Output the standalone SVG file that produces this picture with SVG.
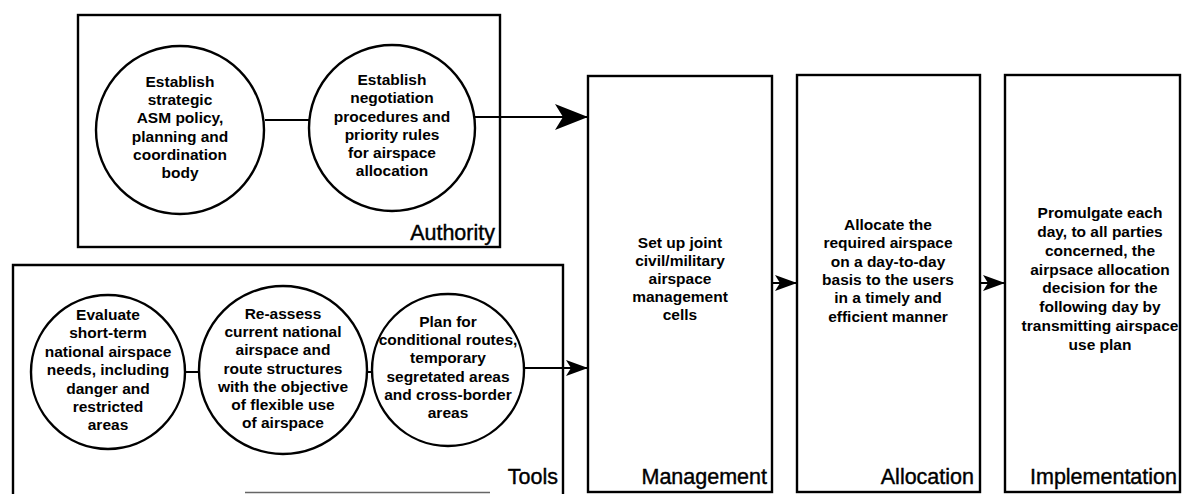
<svg xmlns="http://www.w3.org/2000/svg" width="1183" height="494" viewBox="0 0 1183 494">
<style>
.box{fill:none;stroke:#000;stroke-width:2.4}
.circ{fill:#fff;stroke:#000;stroke-width:2.4}
.ln{fill:none;stroke:#000;stroke-width:2}
.t{font-family:"Liberation Sans",Arial,sans-serif;font-size:15.5px;font-weight:bold;text-anchor:middle;fill:#000}
.lab{font-family:"Liberation Sans",Arial,sans-serif;font-size:21.5px;text-anchor:end;fill:#000;stroke:#000;stroke-width:0.4}
</style>
<defs>
<marker id="big" markerUnits="userSpaceOnUse" markerWidth="34" markerHeight="28" refX="33" refY="13" orient="auto">
<path d="M0,0 L33,13 L0,26 L8,13 z" fill="#000"/>
</marker>
<marker id="small" markerUnits="userSpaceOnUse" markerWidth="24" markerHeight="18" refX="22" refY="8" orient="auto">
<path d="M0,0 L22,8 L0,16 L5,8 z" fill="#000"/>
</marker>
</defs>
<rect width="1183" height="494" fill="#fff"/>

<g id="authority">
<rect class="box" x="78" y="15" width="422" height="232"/>
<text class="lab" x="495" y="240">Authority</text>
</g>

<g id="tools">
<path class="box" d="M13,496 V265 H563 V496"/>
<line x1="245" y1="492.5" x2="490" y2="492.5" stroke="#666" stroke-width="1.5"/>
<text class="lab" x="558" y="484">Tools</text>
</g>

<g id="connectors">
<line class="ln" x1="265" y1="120" x2="309" y2="120"/>
<line class="ln" x1="475" y1="117" x2="588" y2="117" marker-end="url(#big)"/>
<line class="ln" x1="185" y1="372" x2="199" y2="372"/>
<line class="ln" x1="367" y1="372" x2="372" y2="372"/>
<line class="ln" x1="524" y1="368" x2="588" y2="368" marker-end="url(#small)"/>
<line class="ln" x1="772" y1="283" x2="797" y2="283" marker-end="url(#small)"/>
<line class="ln" x1="980" y1="283" x2="1005" y2="283" marker-end="url(#small)"/>
</g>

<g id="a1">
<circle class="circ" cx="180" cy="130" r="84"/>
<text class="t" x="180" y="87">Establish</text>
<text class="t" x="180" y="105">strategic</text>
<text class="t" x="180" y="123">ASM policy,</text>
<text class="t" x="180" y="142">planning and</text>
<text class="t" x="180" y="160">coordination</text>
<text class="t" x="180" y="178">body</text>
</g>

<g id="a2">
<circle class="circ" cx="392" cy="128" r="83"/>
<text class="t" x="392" y="85">Establish</text>
<text class="t" x="392" y="103">negotiation</text>
<text class="t" x="392" y="122">procedures and</text>
<text class="t" x="392" y="140">priority rules</text>
<text class="t" x="392" y="158">for airspace</text>
<text class="t" x="392" y="176">allocation</text>
</g>

<g id="t1">
<circle class="circ" cx="108" cy="372" r="77"/>
<text class="t" x="108" y="320">Evaluate</text>
<text class="t" x="108" y="338">short-term</text>
<text class="t" x="108" y="357">national airspace</text>
<text class="t" x="108" y="375">needs, including</text>
<text class="t" x="108" y="394">danger and</text>
<text class="t" x="108" y="412">restricted</text>
<text class="t" x="108" y="430">areas</text>
</g>

<g id="t2">
<circle class="circ" cx="283" cy="370" r="84"/>
<text class="t" x="283" y="319">Re-assess</text>
<text class="t" x="283" y="337">current national</text>
<text class="t" x="283" y="355">airspace and</text>
<text class="t" x="283" y="374">route structures</text>
<text class="t" x="283" y="392">with the objective</text>
<text class="t" x="283" y="410">of flexible use</text>
<text class="t" x="283" y="428">of airspace</text>
</g>

<g id="t3">
<circle class="circ" cx="448" cy="370" r="76"/>
<text class="t" x="448" y="327">Plan for</text>
<text class="t" x="448" y="345">conditional routes,</text>
<text class="t" x="448" y="363">temporary</text>
<text class="t" x="448" y="382">segretated areas</text>
<text class="t" x="448" y="400">and cross-border</text>
<text class="t" x="448" y="418">areas</text>
</g>

<g id="management">
<rect class="box" x="588" y="76" width="184" height="416"/>
<text class="t" x="680" y="248">Set up joint</text>
<text class="t" x="680" y="266">civil/military</text>
<text class="t" x="680" y="284">airspace</text>
<text class="t" x="680" y="302">management</text>
<text class="t" x="680" y="320">cells</text>
<text class="lab" x="767" y="484">Management</text>
</g>

<g id="allocation">
<rect class="box" x="797" y="75" width="183" height="417"/>
<text class="t" x="888" y="230">Allocate the</text>
<text class="t" x="888" y="248">required airspace</text>
<text class="t" x="888" y="267">on a day-to-day</text>
<text class="t" x="888" y="285">basis to the users</text>
<text class="t" x="888" y="303">in a timely and</text>
<text class="t" x="888" y="322">efficient manner</text>
<text class="lab" x="974" y="484">Allocation</text>
</g>

<g id="implementation">
<rect class="box" x="1005" y="75" width="175" height="417"/>
<text class="t" x="1100" y="218">Promulgate each</text>
<text class="t" x="1100" y="237">day, to all parties</text>
<text class="t" x="1100" y="256">concerned, the</text>
<text class="t" x="1100" y="275">airpsace allocation</text>
<text class="t" x="1100" y="293">decision for the</text>
<text class="t" x="1100" y="312">following day by</text>
<text class="t" x="1100" y="331">transmitting airspace</text>
<text class="t" x="1100" y="350">use plan</text>
<text class="lab" x="1177" y="484">Implementation</text>
</g>
</svg>
